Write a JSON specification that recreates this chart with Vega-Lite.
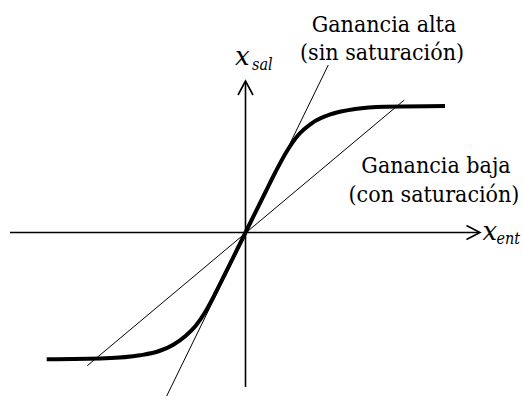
{
  "$schema": "https://vega.github.io/schema/vega-lite/v6.json",
  "width": 523,
  "height": 396,
  "padding": 0,
  "autosize": {"type": "none"},
  "background": "white",
  "config": {"view": {"stroke": null}},
  "datasets": {
    "axes": [
      {"x1": -2.355, "y1": 0, "x2": 2.335, "y2": 0},
      {"x1": 0, "y1": -1.545, "x2": 0, "y2": 1.505}
    ],
    "arrows": [
      {"arrow": "h", "seq": 1, "x": 2.21, "y": 0.07},
      {"arrow": "h", "seq": 2, "x": 2.345, "y": 0},
      {"arrow": "h", "seq": 3, "x": 2.21, "y": -0.07},
      {"arrow": "v", "seq": 1, "x": -0.075, "y": 1.375},
      {"arrow": "v", "seq": 2, "x": 0, "y": 1.515},
      {"arrow": "v", "seq": 3, "x": 0.075, "y": 1.375}
    ],
    "gains": [
      {"name": "alta", "x1": -0.788, "y1": -1.635, "x2": 0.828, "y2": 1.675},
      {"name": "baja", "x1": -1.582, "y1": -1.332, "x2": 1.588, "y2": 1.325}
    ],
    "curve": [
      {"x": -1.988, "y": -1.268},
      {"x": -1.4, "y": -1.258},
      {"x": -1.055, "y": -1.228},
      {"x": -0.862, "y": -1.185},
      {"x": -0.722, "y": -1.122},
      {"x": -0.6, "y": -1.035},
      {"x": -0.5, "y": -0.935},
      {"x": -0.412, "y": -0.81},
      {"x": -0.3, "y": -0.605},
      {"x": -0.2, "y": -0.405},
      {"x": 0, "y": 0},
      {"x": 0.2, "y": 0.405},
      {"x": 0.3, "y": 0.605},
      {"x": 0.412, "y": 0.81},
      {"x": 0.528, "y": 0.975},
      {"x": 0.662, "y": 1.092},
      {"x": 0.862, "y": 1.185},
      {"x": 1.095, "y": 1.235},
      {"x": 1.395, "y": 1.258},
      {"x": 1.995, "y": 1.265}
    ],
    "labels": [
      {"label": "Ganancia alta", "x": 1.385, "y": 2.008},
      {"label": "(sin saturación)", "x": 1.365, "y": 1.725},
      {"label": "Ganancia baja", "x": 1.905, "y": 0.595},
      {"label": "(con saturación)", "x": 1.885, "y": 0.308}
    ],
    "vars": [
      {"label": "x", "x": -0.105, "y": 1.675},
      {"label": "x", "x": 2.37, "y": -0.075}
    ],
    "subs": [
      {"label": "sal", "x": 0.065, "y": 1.625},
      {"label": "ent", "x": 2.51, "y": -0.11}
    ]
  },
  "layer": [
    {
      "data": {"name": "axes"},
      "mark": {"type": "rule", "color": "black", "strokeWidth": 1.6},
      "encoding": {
        "x": {"field": "x1", "type": "quantitative", "scale": {"domain": [-2.455, 2.775], "nice": false, "zero": false}, "axis": null},
        "y": {"field": "y1", "type": "quantitative", "scale": {"domain": [-1.635, 2.325], "nice": false, "zero": false}, "axis": null},
        "x2": {"field": "x2"},
        "y2": {"field": "y2"}
      }
    },
    {
      "data": {"name": "arrows"},
      "mark": {"type": "line", "color": "black", "strokeWidth": 1.6, "strokeJoin": "miter"},
      "encoding": {
        "x": {"field": "x", "type": "quantitative", "scale": {"domain": [-2.455, 2.775], "nice": false, "zero": false}, "axis": null},
        "y": {"field": "y", "type": "quantitative", "scale": {"domain": [-1.635, 2.325], "nice": false, "zero": false}, "axis": null},
        "detail": {"field": "arrow"},
        "order": {"field": "seq"}
      }
    },
    {
      "data": {"name": "gains"},
      "mark": {"type": "rule", "color": "black", "strokeWidth": 1},
      "encoding": {
        "x": {"field": "x1", "type": "quantitative", "scale": {"domain": [-2.455, 2.775], "nice": false, "zero": false}, "axis": null},
        "y": {"field": "y1", "type": "quantitative", "scale": {"domain": [-1.635, 2.325], "nice": false, "zero": false}, "axis": null},
        "x2": {"field": "x2"},
        "y2": {"field": "y2"}
      }
    },
    {
      "data": {"name": "curve"},
      "mark": {"type": "line", "color": "black", "strokeWidth": 4, "interpolate": "monotone"},
      "encoding": {
        "x": {"field": "x", "type": "quantitative", "scale": {"domain": [-2.455, 2.775], "nice": false, "zero": false}, "axis": null},
        "y": {"field": "y", "type": "quantitative", "scale": {"domain": [-1.635, 2.325], "nice": false, "zero": false}, "axis": null},
        "order": {"field": "x"}
      }
    },
    {
      "data": {"name": "labels"},
      "mark": {"type": "text", "font": "DejaVu Serif Condensed", "fontSize": 23, "align": "center", "baseline": "alphabetic", "color": "black"},
      "encoding": {
        "x": {"field": "x", "type": "quantitative", "scale": {"domain": [-2.455, 2.775], "nice": false, "zero": false}, "axis": null},
        "y": {"field": "y", "type": "quantitative", "scale": {"domain": [-1.635, 2.325], "nice": false, "zero": false}, "axis": null},
        "text": {"field": "label"}
      }
    },
    {
      "data": {"name": "vars"},
      "mark": {"type": "text", "font": "DejaVu Serif", "fontSize": 26, "fontStyle": "italic", "align": "left", "baseline": "alphabetic", "color": "black"},
      "encoding": {
        "x": {"field": "x", "type": "quantitative", "scale": {"domain": [-2.455, 2.775], "nice": false, "zero": false}, "axis": null},
        "y": {"field": "y", "type": "quantitative", "scale": {"domain": [-1.635, 2.325], "nice": false, "zero": false}, "axis": null},
        "text": {"field": "label"}
      }
    },
    {
      "data": {"name": "subs"},
      "mark": {"type": "text", "font": "DejaVu Serif Condensed", "fontSize": 16, "fontStyle": "italic", "align": "left", "baseline": "alphabetic", "color": "black"},
      "encoding": {
        "x": {"field": "x", "type": "quantitative", "scale": {"domain": [-2.455, 2.775], "nice": false, "zero": false}, "axis": null},
        "y": {"field": "y", "type": "quantitative", "scale": {"domain": [-1.635, 2.325], "nice": false, "zero": false}, "axis": null},
        "text": {"field": "label"}
      }
    }
  ]
}
